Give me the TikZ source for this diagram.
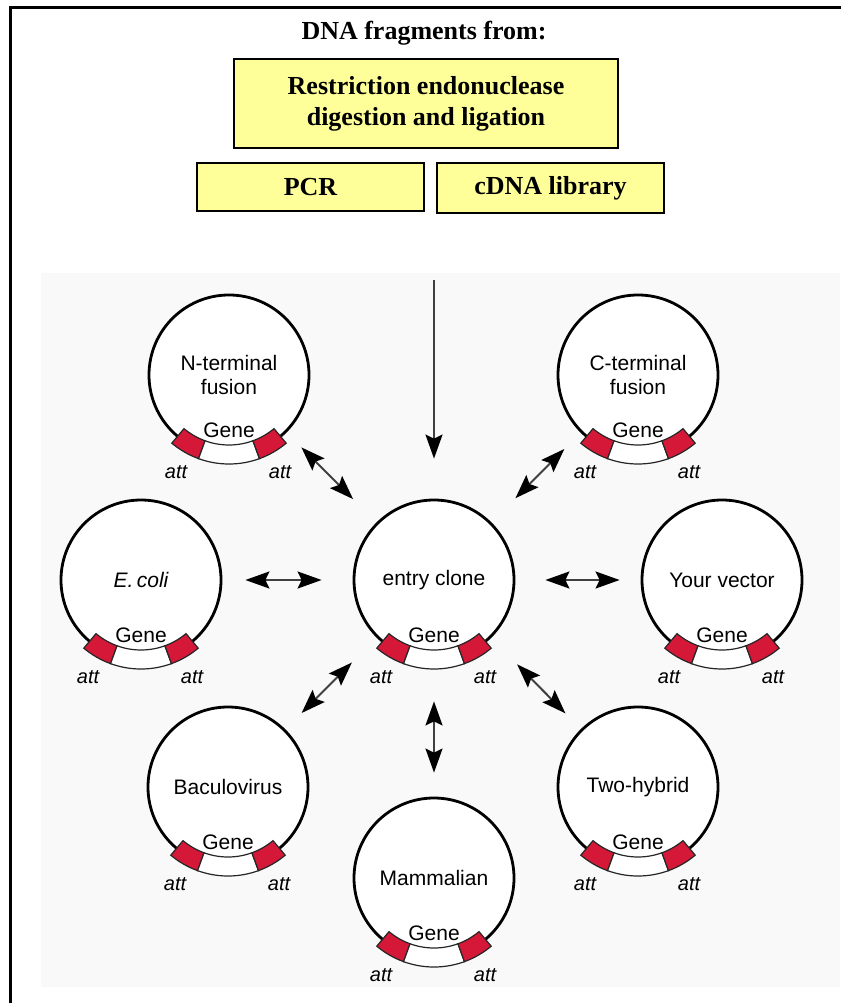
\documentclass[tikz,border=0pt]{standalone}
\usepackage{fontspec}
\setmainfont{Liberation Serif}
\setsansfont{Liberation Sans}
\usetikzlibrary{arrows.meta}
\definecolor{boxyellow}{RGB}{255,255,153}
\definecolor{attred}{RGB}{214,24,56}
\definecolor{panelgray}{RGB}{249,249,249}
\tikzset{
  srcbox/.style={draw, line width=2pt, fill=boxyellow, align=center, inner sep=0pt,
    font=\bfseries\fontsize{26}{31}\selectfont},
  plasmid/.style={circle, draw, line width=2.8pt, fill=white, minimum size=160pt,
    inner sep=0pt, align=center, font=\sffamily\fontsize{21}{24}\selectfont},
  seg/.style={draw=black!85, line width=1.2pt},
  lbl/.style={inner sep=0pt, font=\sffamily\fontsize{21}{24}\selectfont},
  attlbl/.style={inner sep=0pt, font=\sffamily\itshape\fontsize{20}{24}\selectfont},
  xchg/.style={<->, line width=2pt, draw=black!75},
  >={Stealth[length=24pt, width=17pt, inset=4pt, black]}
}

\begin{document}
\begin{tikzpicture}[x=1pt, y=1pt]
  \useasboundingbox (0,0) rectangle (840,-1003);
  % frame and panel
  \fill[panelgray] (41,-273) rectangle (840,-987);
  \draw[line width=3pt] (10,-1010) -- (10,-8) -- (850,-8);

  % sources
  \node[font=\bfseries\fontsize{26}{31}\selectfont] (title) at (424,-33) {DNA fragments from:};
  \node[srcbox, minimum width=384pt, minimum height=89pt] (restr) at (426,-103.5)
    {Restriction endonuclease\\digestion and ligation};
  \node[srcbox, minimum width=227pt, minimum height=48pt] (pcr) at (310.5,-187) {PCR};
  \node[srcbox, minimum width=227pt, minimum height=50pt] (cdna) at (550.5,-188) {cDNA library};

  % vectors
  \foreach \nm/\cx/\cy/\txt in {nterm/229/375/{N-terminal\\fusion},
      cterm/638/375/{C-terminal\\fusion}, ecoli/141/580/{\itshape E.\,coli},
      entry/434/580/{entry clone}, yvec/722/580/{Your vector},
      bacu/228/787/{Baculovirus}, twohyb/638/787/{Two-hybrid},
      mamm/434/878/{Mammalian}}{
    \node[plasmid] (\nm) at (\cx,-\cy) {\txt};
    \foreach \a/\b/\f in {230/250/attred, 250/290/white, 290/310/attred}
      \draw[seg, fill=\f] ([shift={(\a:70pt)}]\nm.center)
        arc[start angle=\a, end angle=\b, radius=70pt]
        -- ([shift={(\b:89pt)}]\nm.center)
        arc[start angle=\b, end angle=\a, radius=89pt] -- cycle;
    \node[lbl] (\nm-gene) at ([yshift=-55pt]\nm.center) {Gene};
    \node[attlbl] (\nm-attl) at ([shift={(-53pt,-97pt)}]\nm.center) {att};
    \node[attlbl] (\nm-attr) at ([shift={(51pt,-97pt)}]\nm.center) {att};
  }

  % recombination
  \coordinate (src) at (434,-280);
  \draw[->, line width=2pt, draw=black!75, shorten >=40pt] (src) -- (entry);
  \draw[xchg, shorten <=21pt, shorten >=33pt] (nterm) -- (entry);
  \draw[xchg, shorten <=23pt, shorten >=34pt] (cterm) -- (entry);
  \draw[xchg, shorten <=23pt, shorten >=31pt] (ecoli) -- (entry);
  \draw[xchg, shorten <=30pt, shorten >=21pt] (entry) -- (yvec);
  \draw[xchg, shorten <=23pt, shorten >=35pt] (bacu) -- (entry);
  \draw[xchg, shorten <=37pt, shorten >=22pt] (entry) -- (twohyb);
  \draw[xchg, shorten <=40pt, shorten >=24pt] (entry) -- (mamm);
\end{tikzpicture}
\end{document}
